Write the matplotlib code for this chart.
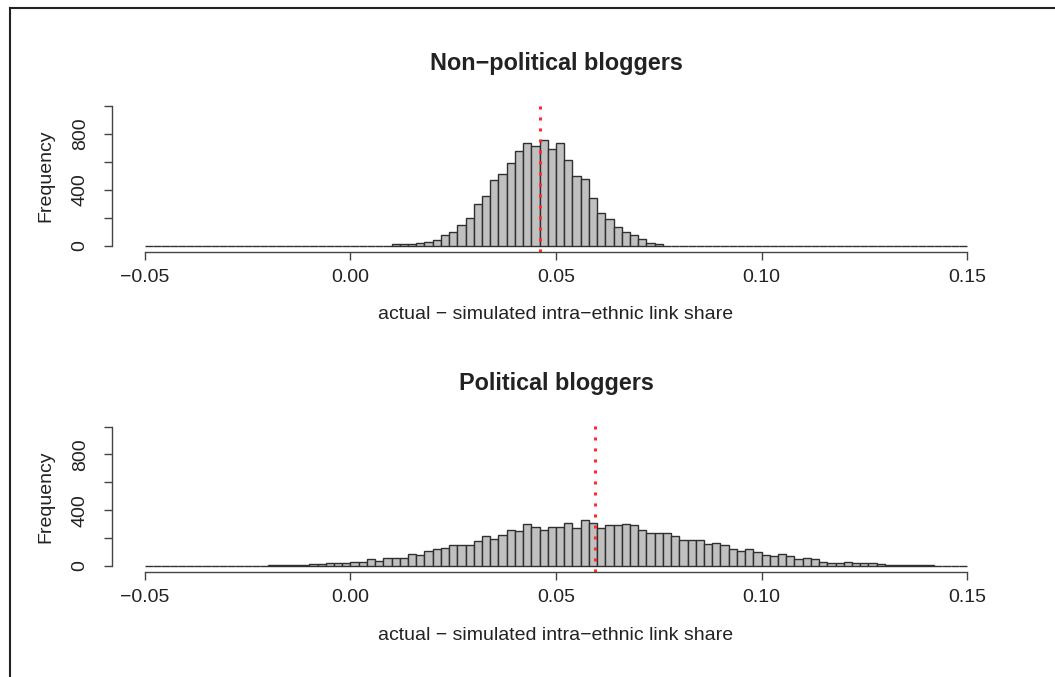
import numpy as np
import matplotlib
matplotlib.use("Agg")
import matplotlib.pyplot as plt
from matplotlib.lines import Line2D

plt.rcParams['font.family'] = ['Liberation Sans', 'DejaVu Sans']

# histogram bins: width 0.002 from -0.05 to 0.15
bin_width = 0.002
x_min, x_max = -0.05, 0.15

# counts, first bin given by its left edge
nonpol_start = 0.010
nonpol_counts = [12, 12, 14, 19, 31, 43, 78, 102, 149, 201, 303, 355, 473, 516,
                 594, 682, 734, 712, 760, 691, 734, 611, 497, 476, 346, 237, 196,
                 137, 102, 78, 47, 19, 12]
nonpol_actual = 0.046

pol_start = -0.020
pol_counts = [5, 5, 7, 10, 10, 12, 14, 19, 19, 19, 29, 29, 48, 36, 58, 58, 58,
              89, 79, 111, 125, 132, 151, 149, 151, 180, 212, 192, 221, 260, 250,
              300, 281, 260, 281, 281, 310, 272, 332, 312, 272, 291, 291, 298, 291,
              260, 240, 240, 240, 212, 190, 190, 190, 161, 168, 151, 125, 108, 120,
              99, 79, 70, 89, 70, 50, 60, 48, 29, 24, 24, 29, 19, 19, 19, 17, 10,
              10, 10, 10, 5, 10, 2]
pol_actual = 0.0595

titles = ["Non\u2212political bloggers", "Political bloggers"]
xlab = "actual \u2212 simulated intra\u2212ethnic link share"
xticks = [-0.05, 0.00, 0.05, 0.10, 0.15]
xticklabels = ["\u22120.05", "0.00", "0.05", "0.10", "0.15"]
yticks = [0, 200, 400, 600, 800, 1000]
yticklabels = ["0", "", "400", "", "800", ""]

edges = np.round(np.arange(x_min, x_max + bin_width / 2, bin_width), 4)


def full_counts(start, counts):
    c = np.zeros(len(edges) - 1)
    i0 = int(round((start - x_min) / bin_width))
    c[i0:i0 + len(counts)] = counts
    return c


fig = plt.figure(figsize=(10.55, 6.77), dpi=100)
txt = '#222222'
axcol = '#444444'

positions = [[0.1062, 0.6284, 0.8417, 0.2233], [0.1062, 0.1557, 0.8417, 0.2224]]
data = [(nonpol_start, nonpol_counts, nonpol_actual), (pol_start, pol_counts, pol_actual)]
label_y = [-0.36, -0.368]
title_y = [1.247, 1.252]

for k in range(2):
    ax = fig.add_axes(positions[k])
    start, counts, actual = data[k]
    c = full_counts(start, counts)
    ax.bar(edges[:-1], c, width=bin_width, align='edge', color='#c0c0c0',
           edgecolor='#303030', linewidth=1.0)
    ax.axvline(actual, color='#ff2a2a', linestyle=(0, (1, 2.6)), linewidth=2.2)

    ax.set_xlim(-0.058, 0.158)
    ax.set_ylim(-40, 1040)
    for s in ['top', 'right']:
        ax.spines[s].set_visible(False)
    ax.spines['bottom'].set_bounds(x_min, x_max)
    ax.spines['left'].set_bounds(0, 1000)
    for s in ['bottom', 'left']:
        ax.spines[s].set_color(axcol)
        ax.spines[s].set_linewidth(1.0)

    ax.set_xticks(xticks)
    ax.set_xticklabels(xticklabels)
    ax.set_yticks(yticks)
    ax.set_yticklabels(yticklabels, rotation=90, va='center')
    ax.tick_params(axis='both', direction='out', length=5.8, width=1.0,
                   color=axcol, labelcolor=txt, labelsize=14)
    ax.tick_params(axis='x', pad=7)
    ax.tick_params(axis='y', pad=11)

    ax.set_xlabel(xlab, fontsize=14, color=txt)
    ax.xaxis.set_label_coords(0.5, label_y[k])
    ax.set_ylabel("Frequency", fontsize=14, color=txt)
    ax.yaxis.set_label_coords(-0.0653, 0.5)
    ax.text(0.5, title_y[k], titles[k], transform=ax.transAxes, ha='center',
            va='center', fontsize=16.8, fontweight='bold', color=txt)

# frame around the figure (only top and left edges are inside the picture)
fig.add_artist(Line2D([10 / 1055, 1.0], [1 - 8 / 677, 1 - 8 / 677],
                      transform=fig.transFigure, color='#222222', linewidth=1.5))
fig.add_artist(Line2D([10 / 1055, 10 / 1055], [0.0, 1 - 8 / 677],
                      transform=fig.transFigure, color='#222222', linewidth=1.5))

fig.savefig("out.png", dpi=100)
